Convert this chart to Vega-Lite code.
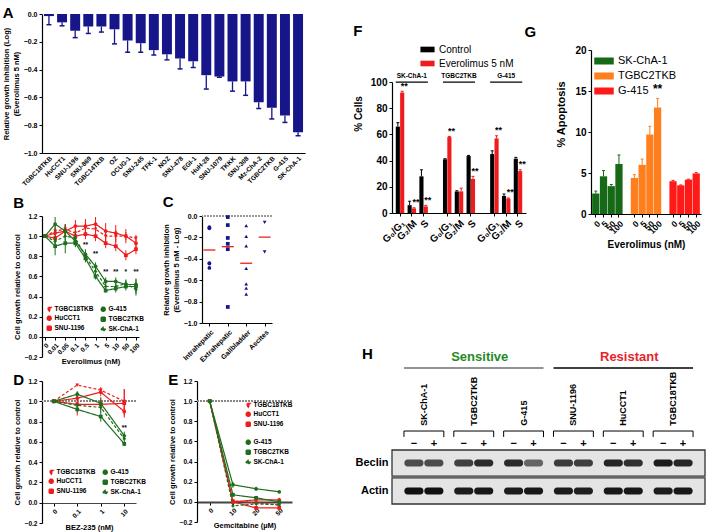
{
"$schema":"https://vega.github.io/schema/vega-lite/v6.json",
"padding":{"left":2,"top":6,"right":0,"bottom":0},
"config":{
 "font":"Liberation Sans",
 "view":{"stroke":null},
 "axis":{"labelFont":"Liberation Sans","titleFont":"Liberation Sans","labelFontWeight":"bold","titleFontWeight":"bold","labelColor":"#000","titleColor":"#000","domainColor":"#000","tickColor":"#000","grid":false,"labelFontSize":7,"titleFontSize":7.5,"tickSize":3,"domainWidth":1.2,"labelPadding":2,"titlePadding":3,"labelOverlap":false},
 "legend":{"labelFont":"Liberation Sans","labelFontWeight":"bold","labelColor":"#000"},
 "title":{"font":"Liberation Sans","fontSize":15,"fontWeight":"bold","anchor":"start","frame":"bounds","color":"#000","offset":2},
 "text":{"font":"Liberation Sans","color":"#000"}
},
"resolve":{"scale":{"color":"independent","shape":"independent","strokeDash":"independent","opacity":"independent","stroke":"independent","xOffset":"independent"}},
"hconcat":[
{"resolve":{"scale":{"color":"independent","shape":"independent","strokeDash":"independent","opacity":"independent","stroke":"independent","xOffset":"independent"}},
 "vconcat":[
 {"vconcat":[
  {"width":263,"height":139,
   "title":{"text":"A","dy":13},
   "data":{"values":[
    {"cell":"TGBC18TKB","v":-0.015,"lo":-0.077},
    {"cell":"HuCCT1","v":-0.06,"lo":-0.085},
    {"cell":"SNU-1196","v":-0.12,"lo":-0.17},
    {"cell":"SNU-869","v":-0.09,"lo":-0.14},
    {"cell":"TGBC14TKB","v":-0.09,"lo":-0.13},
    {"cell":"OZ","v":-0.11,"lo":-0.215},
    {"cell":"OCUG-1","v":-0.19,"lo":-0.275},
    {"cell":"SNU-245","v":-0.21,"lo":-0.275},
    {"cell":"TFK-1","v":-0.26,"lo":-0.295},
    {"cell":"NOZ","v":-0.29,"lo":-0.33},
    {"cell":"SNU-478","v":-0.32,"lo":-0.395},
    {"cell":"EGI-1","v":-0.34,"lo":-0.385},
    {"cell":"HuH-28","v":-0.44,"lo":-0.54},
    {"cell":"SNU-1079","v":-0.45,"lo":-0.455},
    {"cell":"TKKK","v":-0.485,"lo":-0.555},
    {"cell":"SNU-308","v":-0.485,"lo":-0.585},
    {"cell":"Mz-ChA-2","v":-0.635,"lo":-0.68},
    {"cell":"TGBC2TKB","v":-0.675,"lo":-0.755},
    {"cell":"G-415","v":-0.73,"lo":-0.78},
    {"cell":"SK-ChA-1","v":-0.85,"lo":-0.875}
   ]},
   "encoding":{
    "x":{"field":"cell","type":"nominal","sort":null,"scale":{"paddingInner":0.24,"paddingOuter":0.15},"axis":{"title":null,"labelAngle":-45,"labelFontSize":6.5,"ticks":false}},
    "y":{"field":"v","type":"quantitative","scale":{"domain":[-1,0]},"axis":{"values":[-1,-0.8,-0.6,-0.4,-0.2,0],"format":".1f","labelOverlap":false,"title":["Relative growth inhibition (Log)","(Everolimus 5 nM)"]}}
   },
   "layer":[
    {"mark":{"type":"bar","color":"#16168a","opacity":1}},
    {"mark":{"type":"rule","color":"#16168a","strokeWidth":1.3},"encoding":{"y2":{"field":"lo"}}},
    {"mark":{"type":"tick","color":"#16168a","thickness":1.5,"size":5,"opacity":1},"encoding":{"y":{"field":"lo","type":"quantitative"}}}
   ]}
 ]},
 {"resolve":{"scale":{"color":"independent","shape":"independent","strokeDash":"independent","opacity":"independent","stroke":"independent","xOffset":"independent"}},
  "hconcat":[
  {"width":97,"height":141,
   "title":{"text":"B"},
   "data":{"values":[
    {"s":"TGBC18TKB","grp":"R","d":"0","v":1,"lo":1,"hi":1},
    {"s":"TGBC18TKB","grp":"R","d":"0.01","v":1.05,"lo":1.0,"hi":1.1},
    {"s":"TGBC18TKB","grp":"R","d":"0.05","v":1.07,"lo":1.02,"hi":1.12},
    {"s":"TGBC18TKB","grp":"R","d":"0.1","v":1.03,"lo":0.98,"hi":1.08},
    {"s":"TGBC18TKB","grp":"R","d":"0.5","v":1.08,"lo":1.03,"hi":1.14},
    {"s":"TGBC18TKB","grp":"R","d":"1","v":1.07,"lo":1.0,"hi":1.14},
    {"s":"TGBC18TKB","grp":"R","d":"5","v":1.0,"lo":0.94,"hi":1.06},
    {"s":"TGBC18TKB","grp":"R","d":"10","v":1.0,"lo":0.94,"hi":1.06},
    {"s":"TGBC18TKB","grp":"R","d":"50","v":1.0,"lo":0.96,"hi":1.04},
    {"s":"TGBC18TKB","grp":"R","d":"100","v":0.98,"lo":0.95,"hi":1.01},
    {"s":"HuCCT1","grp":"R","d":"0","v":1,"lo":1,"hi":1},
    {"s":"HuCCT1","grp":"R","d":"0.01","v":1.03,"lo":0.98,"hi":1.08},
    {"s":"HuCCT1","grp":"R","d":"0.05","v":1.05,"lo":0.99,"hi":1.11},
    {"s":"HuCCT1","grp":"R","d":"0.1","v":1.1,"lo":1.04,"hi":1.16},
    {"s":"HuCCT1","grp":"R","d":"0.5","v":1.1,"lo":1.03,"hi":1.17},
    {"s":"HuCCT1","grp":"R","d":"1","v":1.12,"lo":1.04,"hi":1.19},
    {"s":"HuCCT1","grp":"R","d":"5","v":1.05,"lo":0.97,"hi":1.13},
    {"s":"HuCCT1","grp":"R","d":"10","v":1.03,"lo":0.95,"hi":1.11},
    {"s":"HuCCT1","grp":"R","d":"50","v":1.0,"lo":0.93,"hi":1.07},
    {"s":"HuCCT1","grp":"R","d":"100","v":0.93,"lo":0.88,"hi":0.98},
    {"s":"SNU-1196","grp":"R","d":"0","v":1,"lo":1,"hi":1},
    {"s":"SNU-1196","grp":"R","d":"0.01","v":0.98,"lo":0.93,"hi":1.03},
    {"s":"SNU-1196","grp":"R","d":"0.05","v":1.05,"lo":1.0,"hi":1.1},
    {"s":"SNU-1196","grp":"R","d":"0.1","v":1.0,"lo":0.95,"hi":1.05},
    {"s":"SNU-1196","grp":"R","d":"0.5","v":1.02,"lo":0.97,"hi":1.07},
    {"s":"SNU-1196","grp":"R","d":"1","v":1.0,"lo":0.95,"hi":1.05},
    {"s":"SNU-1196","grp":"R","d":"5","v":0.93,"lo":0.88,"hi":0.98},
    {"s":"SNU-1196","grp":"R","d":"10","v":0.9,"lo":0.85,"hi":0.95},
    {"s":"SNU-1196","grp":"R","d":"50","v":0.81,"lo":0.76,"hi":0.86},
    {"s":"SNU-1196","grp":"R","d":"100","v":0.87,"lo":0.82,"hi":0.92},
    {"s":"G-415","grp":"S","d":"0","v":1,"lo":1,"hi":1},
    {"s":"G-415","grp":"S","d":"0.01","v":1.12,"lo":1.05,"hi":1.19},
    {"s":"G-415","grp":"S","d":"0.05","v":1.05,"lo":0.98,"hi":1.12},
    {"s":"G-415","grp":"S","d":"0.1","v":0.95,"lo":0.9,"hi":1.0},
    {"s":"G-415","grp":"S","d":"0.5","v":0.82,"lo":0.77,"hi":0.87},
    {"s":"G-415","grp":"S","d":"1","v":0.7,"lo":0.66,"hi":0.74},
    {"s":"G-415","grp":"S","d":"5","v":0.55,"lo":0.51,"hi":0.59},
    {"s":"G-415","grp":"S","d":"10","v":0.55,"lo":0.51,"hi":0.59},
    {"s":"G-415","grp":"S","d":"50","v":0.52,"lo":0.48,"hi":0.56},
    {"s":"G-415","grp":"S","d":"100","v":0.52,"lo":0.46,"hi":0.58},
    {"s":"TGBC2TKB","grp":"S","d":"0","v":1,"lo":1,"hi":1},
    {"s":"TGBC2TKB","grp":"S","d":"0.01","v":0.9,"lo":0.81,"hi":0.99},
    {"s":"TGBC2TKB","grp":"S","d":"0.05","v":0.93,"lo":0.83,"hi":1.03},
    {"s":"TGBC2TKB","grp":"S","d":"0.1","v":0.93,"lo":0.89,"hi":0.97},
    {"s":"TGBC2TKB","grp":"S","d":"0.5","v":0.78,"lo":0.74,"hi":0.82},
    {"s":"TGBC2TKB","grp":"S","d":"1","v":0.6,"lo":0.57,"hi":0.63},
    {"s":"TGBC2TKB","grp":"S","d":"5","v":0.46,"lo":0.44,"hi":0.48},
    {"s":"TGBC2TKB","grp":"S","d":"10","v":0.48,"lo":0.44,"hi":0.52},
    {"s":"TGBC2TKB","grp":"S","d":"50","v":0.5,"lo":0.46,"hi":0.54},
    {"s":"TGBC2TKB","grp":"S","d":"100","v":0.5,"lo":0.43,"hi":0.57},
    {"s":"SK-ChA-1","grp":"S","d":"0","v":1,"lo":1,"hi":1},
    {"s":"SK-ChA-1","grp":"S","d":"0.01","v":0.95,"lo":0.9,"hi":1.0},
    {"s":"SK-ChA-1","grp":"S","d":"0.05","v":1.0,"lo":0.95,"hi":1.05},
    {"s":"SK-ChA-1","grp":"S","d":"0.1","v":0.98,"lo":0.93,"hi":1.03},
    {"s":"SK-ChA-1","grp":"S","d":"0.5","v":0.8,"lo":0.76,"hi":0.84},
    {"s":"SK-ChA-1","grp":"S","d":"1","v":0.65,"lo":0.61,"hi":0.69},
    {"s":"SK-ChA-1","grp":"S","d":"5","v":0.5,"lo":0.47,"hi":0.53},
    {"s":"SK-ChA-1","grp":"S","d":"10","v":0.5,"lo":0.46,"hi":0.54},
    {"s":"SK-ChA-1","grp":"S","d":"50","v":0.53,"lo":0.49,"hi":0.57},
    {"s":"SK-ChA-1","grp":"S","d":"100","v":0.47,"lo":0.41,"hi":0.53}
   ]},
   "encoding":{
    "x":{"field":"d","type":"ordinal","sort":null,"scale":{"type":"point","domain":["0","0.01","0.05","0.1","0.5","1","5","10","50","100"],"padding":0.3},"axis":{"title":"Everolimus (nM)","labelAngle":-45,"offset":-20,"labelFontSize":6.5,"titlePadding":2}},
    "y":{"field":"v","type":"quantitative","scale":{"domain":[-0.2,1.2]},"axis":{"values":[-0.2,0,0.2,0.4,0.6,0.8,1,1.2],"format":".1f","title":"Cell growth relative to control","labelFontSize":6.5}}
   },
   "layer":[
    {"transform":[{"filter":"datum.grp=='R'"}],"layer":[
     {"mark":{"type":"line","strokeWidth":1.2},"encoding":{"color":{"field":"s","type":"nominal","scale":{"domain":["TGBC18TKB","HuCCT1","SNU-1196"],"range":["#ee1c1c","#ee1c1c","#ee1c1c"]}},"strokeDash":{"field":"s","type":"nominal","scale":{"domain":["TGBC18TKB","HuCCT1","SNU-1196"],"range":[[3,2],[1,0],[1,0]]},"legend":null}}},
     {"mark":{"type":"rule","strokeWidth":1},"encoding":{"y":{"field":"lo","type":"quantitative"},"y2":{"field":"hi"},"color":{"field":"s","type":"nominal"}}},
     {"mark":{"type":"point","filled":true,"size":14,"opacity":1},"encoding":{"color":{"field":"s","type":"nominal","legend":{"orient":"none","legendX":4,"legendY":90,"title":null,"labelFontSize":6.5,"symbolSize":16,"rowPadding":-1,"labelOffset":2,"padding":0}},"shape":{"field":"s","type":"nominal","scale":{"domain":["TGBC18TKB","HuCCT1","SNU-1196"],"range":["triangle-down","circle","square"]},"legend":{"orient":"none","legendX":4,"legendY":90,"title":null,"labelFontSize":6.5,"symbolSize":16,"rowPadding":-1,"labelOffset":2,"padding":0}}}}
    ]},
    {"transform":[{"filter":"datum.grp=='S'"}],"layer":[
     {"mark":{"type":"line","strokeWidth":1.2},"encoding":{"color":{"field":"s","type":"nominal","scale":{"domain":["G-415","TGBC2TKB","SK-ChA-1"],"range":["#1e6e1e","#1e6e1e","#1e6e1e"]}},"strokeDash":{"field":"s","type":"nominal","scale":{"domain":["G-415","TGBC2TKB","SK-ChA-1"],"range":[[1,0],[1,0],[3,2]]},"legend":null}}},
     {"mark":{"type":"rule","strokeWidth":1},"encoding":{"y":{"field":"lo","type":"quantitative"},"y2":{"field":"hi"},"color":{"field":"s","type":"nominal"}}},
     {"mark":{"type":"point","filled":true,"size":14,"opacity":1},"encoding":{"color":{"field":"s","type":"nominal","legend":{"orient":"none","legendX":58,"legendY":90,"title":null,"labelFontSize":6.5,"symbolSize":16,"rowPadding":-1,"labelOffset":2,"padding":0}},"shape":{"field":"s","type":"nominal","scale":{"domain":["G-415","TGBC2TKB","SK-ChA-1"],"range":["circle","square","diamond"]},"legend":{"orient":"none","legendX":58,"legendY":90,"title":null,"labelFontSize":6.5,"symbolSize":16,"rowPadding":-1,"labelOffset":2,"padding":0}}}}
    ]},
    {"data":{"values":[{"d":"0.5","v":0.88,"t":"**"},{"d":"1","v":0.79,"t":"**"},{"d":"5","v":0.61,"t":"**"},{"d":"10","v":0.61,"t":"**"},{"d":"50","v":0.61,"t":"*"},{"d":"100","v":0.61,"t":"**"}]},
     "mark":{"type":"text","fontSize":6.5,"fontWeight":"bold","baseline":"bottom"},"encoding":{"y":{"field":"v","type":"quantitative"},"text":{"field":"t"}}}
   ],
   "resolve":{"scale":{"color":"independent","shape":"independent","strokeDash":"independent"}}
  },
  {"width":70,"height":107,
   "title":{"text":"C"},
   "data":{"values":[
    {"site":"Intrahepatic","v":-0.105},{"site":"Intrahepatic","v":-0.115},{"site":"Intrahepatic","v":-0.44},{"site":"Intrahepatic","v":-0.485},{"site":"Intrahepatic","v":-0.445},
    {"site":"Extrahepatic","v":-0.01},{"site":"Extrahepatic","v":-0.085},{"site":"Extrahepatic","v":-0.205},{"site":"Extrahepatic","v":-0.26},{"site":"Extrahepatic","v":-0.31},{"site":"Extrahepatic","v":-0.85},
    {"site":"Gallbladder","v":-0.09},{"site":"Gallbladder","v":-0.19},{"site":"Gallbladder","v":-0.28},{"site":"Gallbladder","v":-0.49},{"site":"Gallbladder","v":-0.635},{"site":"Gallbladder","v":-0.675},{"site":"Gallbladder","v":-0.73},
    {"site":"Ascites","v":-0.06},{"site":"Ascites","v":-0.335}
   ]},
   "encoding":{
    "y":{"field":"v","type":"quantitative","scale":{"domain":[-1,0]},"axis":{"values":[-1,-0.8,-0.6,-0.4,-0.2,0],"format":".1f","labelOverlap":false,"title":["Relative growth inhibition","(Everolimus 5 nM - Log)"],"labelFontSize":7}}
   },
   "layer":[
    {"mark":{"type":"rule","color":"#999999","strokeDash":[1.5,1.5],"strokeWidth":1},"encoding":{"y":{"datum":0,"type":"quantitative"}}},
    {"mark":{"type":"point","filled":true,"size":14,"color":"#16168a","opacity":1},"encoding":{"x":{"field":"site","type":"nominal","sort":null,"scale":{"type":"point","domain":["Intrahepatic","Extrahepatic","Gallbladder","Ascites"],"padding":0.4},"axis":{"title":null,"labelAngle":-45,"labelFontSize":7}},"shape":{"field":"site","type":"nominal","scale":{"domain":["Intrahepatic","Extrahepatic","Gallbladder","Ascites"],"range":["circle","square","triangle-up","triangle-down"]},"legend":null}}},
    {"transform":[{"aggregate":[{"op":"mean","field":"v","as":"m"}],"groupby":["site"]}],"mark":{"type":"tick","color":"#ee1c1c","thickness":1.3,"size":12,"orient":"horizontal","opacity":1},"encoding":{"x":{"field":"site","type":"nominal","sort":null},"y":{"field":"m","type":"quantitative"}}}
   ]}
 ],"spacing":18},
 {"resolve":{"scale":{"color":"independent","shape":"independent","strokeDash":"independent","opacity":"independent","stroke":"independent","xOffset":"independent"}},
  "hconcat":[
  {"width":94,"height":142,
   "title":{"text":"D","dy":12},
   "data":{"values":[
    {"s":"TGBC18TKB","grp":"R","d":"0","v":1,"lo":1,"hi":1},
    {"s":"TGBC18TKB","grp":"R","d":"0.1","v":1.16,"lo":1.15,"hi":1.17},
    {"s":"TGBC18TKB","grp":"R","d":"1","v":1.11,"lo":1.08,"hi":1.14},
    {"s":"TGBC18TKB","grp":"R","d":"10","v":1.0,"lo":0.88,"hi":1.12},
    {"s":"HuCCT1","grp":"R","d":"0","v":1,"lo":1,"hi":1},
    {"s":"HuCCT1","grp":"R","d":"0.1","v":1.03,"lo":0.97,"hi":1.09},
    {"s":"HuCCT1","grp":"R","d":"1","v":1.09,"lo":1.05,"hi":1.13},
    {"s":"HuCCT1","grp":"R","d":"10","v":0.9,"lo":0.86,"hi":0.94},
    {"s":"SNU-1196","grp":"R","d":"0","v":1,"lo":1,"hi":1},
    {"s":"SNU-1196","grp":"R","d":"0.1","v":0.97,"lo":0.86,"hi":1.08},
    {"s":"SNU-1196","grp":"R","d":"1","v":0.97,"lo":0.91,"hi":1.03},
    {"s":"SNU-1196","grp":"R","d":"10","v":0.98,"lo":0.84,"hi":1.12},
    {"s":"G-415","grp":"S","d":"0","v":1,"lo":1,"hi":1},
    {"s":"G-415","grp":"S","d":"0.1","v":1.07,"lo":1.04,"hi":1.1},
    {"s":"G-415","grp":"S","d":"1","v":0.98,"lo":0.92,"hi":1.04},
    {"s":"G-415","grp":"S","d":"10","v":0.66,"lo":0.62,"hi":0.7},
    {"s":"TGBC2TKB","grp":"S","d":"0","v":1,"lo":1,"hi":1},
    {"s":"TGBC2TKB","grp":"S","d":"0.1","v":0.92,"lo":0.89,"hi":0.95},
    {"s":"TGBC2TKB","grp":"S","d":"1","v":0.85,"lo":0.8,"hi":0.9},
    {"s":"TGBC2TKB","grp":"S","d":"10","v":0.58,"lo":0.56,"hi":0.6},
    {"s":"SK-ChA-1","grp":"S","d":"0","v":1,"lo":1,"hi":1},
    {"s":"SK-ChA-1","grp":"S","d":"0.1","v":0.96,"lo":0.94,"hi":0.98},
    {"s":"SK-ChA-1","grp":"S","d":"1","v":0.94,"lo":0.89,"hi":0.99},
    {"s":"SK-ChA-1","grp":"S","d":"10","v":0.63,"lo":0.58,"hi":0.68}
   ]},
   "encoding":{
    "y":{"field":"v","type":"quantitative","scale":{"domain":[-0.2,1.2]},"axis":{"values":[-0.2,0,0.2,0.4,0.6,0.8,1,1.2],"format":".1f","title":"Cell growth relative to control","labelFontSize":6.5}}
   },
   "layer":[
    {"mark":{"type":"rule","color":"#888888","strokeDash":[1.5,1.5],"strokeWidth":1},"encoding":{"y":{"datum":1,"type":"quantitative"}}},
    {"transform":[{"filter":"datum.grp=='R'"}],
     "encoding":{"x":{"field":"d","type":"ordinal","sort":null,"scale":{"type":"point","domain":["0","0.1","1","10"],"padding":0.5},"axis":{"title":"BEZ-235 (nM)","labelAngle":-45,"offset":-20,"labelFontSize":6.5,"titlePadding":5,"domainColor":"#444444"}}},
     "layer":[
     {"mark":{"type":"line","strokeWidth":1.2},"encoding":{"color":{"field":"s","type":"nominal","scale":{"domain":["TGBC18TKB","HuCCT1","SNU-1196"],"range":["#ee1c1c","#ee1c1c","#ee1c1c"]}},"strokeDash":{"field":"s","type":"nominal","scale":{"domain":["TGBC18TKB","HuCCT1","SNU-1196"],"range":[[3,2],[1,0],[1,0]]},"legend":null}}},
     {"mark":{"type":"rule","strokeWidth":1},"encoding":{"y":{"field":"lo","type":"quantitative"},"y2":{"field":"hi"},"color":{"field":"s","type":"nominal"}}},
     {"mark":{"type":"point","filled":true,"size":14,"opacity":1},"encoding":{"color":{"field":"s","type":"nominal","legend":{"orient":"none","legendX":6,"legendY":88,"title":null,"labelFontSize":6.5,"symbolSize":16,"rowPadding":-1,"labelOffset":2,"padding":0}},"shape":{"field":"s","type":"nominal","scale":{"domain":["TGBC18TKB","HuCCT1","SNU-1196"],"range":["triangle-down","circle","square"]},"legend":{"orient":"none","legendX":6,"legendY":88,"title":null,"labelFontSize":6.5,"symbolSize":16,"rowPadding":-1,"labelOffset":2,"padding":0}}}}
    ]},
    {"transform":[{"filter":"datum.grp=='S'"}],
     "encoding":{"x":{"field":"d","type":"ordinal","sort":null}},
     "layer":[
     {"mark":{"type":"line","strokeWidth":1.2},"encoding":{"color":{"field":"s","type":"nominal","scale":{"domain":["G-415","TGBC2TKB","SK-ChA-1"],"range":["#1e6e1e","#1e6e1e","#1e6e1e"]}},"strokeDash":{"field":"s","type":"nominal","scale":{"domain":["G-415","TGBC2TKB","SK-ChA-1"],"range":[[1,0],[1,0],[3,2]]},"legend":null}}},
     {"mark":{"type":"rule","strokeWidth":1},"encoding":{"y":{"field":"lo","type":"quantitative"},"y2":{"field":"hi"},"color":{"field":"s","type":"nominal"}}},
     {"mark":{"type":"point","filled":true,"size":14,"opacity":1},"encoding":{"color":{"field":"s","type":"nominal","legend":{"orient":"none","legendX":60,"legendY":88,"title":null,"labelFontSize":6.5,"symbolSize":16,"rowPadding":-1,"labelOffset":2,"padding":0}},"shape":{"field":"s","type":"nominal","scale":{"domain":["G-415","TGBC2TKB","SK-ChA-1"],"range":["circle","square","diamond"]},"legend":{"orient":"none","legendX":60,"legendY":88,"title":null,"labelFontSize":6.5,"symbolSize":16,"rowPadding":-1,"labelOffset":2,"padding":0}}}}
    ]},
    {"data":{"values":[{"d":"10","v":0.71,"t":"**"}]},
     "mark":{"type":"text","fontSize":6.5,"fontWeight":"bold","baseline":"bottom"},"encoding":{"x":{"field":"d","type":"ordinal","sort":null},"y":{"field":"v","type":"quantitative"},"text":{"field":"t"}}}
   ],
   "resolve":{"scale":{"color":"independent","shape":"independent","strokeDash":"independent"}}
  },
  {"width":95,"height":141,
   "title":{"text":"E","dy":12},
   "data":{"values":[
    {"s":"TGBC18TKB","grp":"R","d":"0","v":1,"lo":1,"hi":1},
    {"s":"TGBC18TKB","grp":"R","d":"10","v":0.01,"lo":-0.01,"hi":0.03},
    {"s":"TGBC18TKB","grp":"R","d":"20","v":-0.01,"lo":-0.03,"hi":0.01},
    {"s":"TGBC18TKB","grp":"R","d":"50","v":-0.03,"lo":-0.05,"hi":-0.01},
    {"s":"HuCCT1","grp":"R","d":"0","v":1,"lo":1,"hi":1},
    {"s":"HuCCT1","grp":"R","d":"10","v":0.0,"lo":-0.02,"hi":0.02},
    {"s":"HuCCT1","grp":"R","d":"20","v":0.02,"lo":0.0,"hi":0.04},
    {"s":"HuCCT1","grp":"R","d":"50","v":0.02,"lo":0.0,"hi":0.04},
    {"s":"SNU-1196","grp":"R","d":"0","v":1,"lo":1,"hi":1},
    {"s":"SNU-1196","grp":"R","d":"10","v":0.0,"lo":-0.02,"hi":0.02},
    {"s":"SNU-1196","grp":"R","d":"20","v":-0.06,"lo":-0.08,"hi":-0.04},
    {"s":"SNU-1196","grp":"R","d":"50","v":-0.06,"lo":-0.08,"hi":-0.04},
    {"s":"G-415","grp":"S","d":"0","v":1,"lo":1,"hi":1},
    {"s":"G-415","grp":"S","d":"10","v":0.17,"lo":0.14,"hi":0.2},
    {"s":"G-415","grp":"S","d":"20","v":0.13,"lo":0.11,"hi":0.15},
    {"s":"G-415","grp":"S","d":"50","v":0.1,"lo":0.09,"hi":0.11},
    {"s":"TGBC2TKB","grp":"S","d":"0","v":1,"lo":1,"hi":1},
    {"s":"TGBC2TKB","grp":"S","d":"10","v":0.07,"lo":0.05,"hi":0.09},
    {"s":"TGBC2TKB","grp":"S","d":"20","v":0.04,"lo":0.03,"hi":0.05},
    {"s":"TGBC2TKB","grp":"S","d":"50","v":0.0,"lo":-0.01,"hi":0.01},
    {"s":"SK-ChA-1","grp":"S","d":"0","v":1,"lo":1,"hi":1},
    {"s":"SK-ChA-1","grp":"S","d":"10","v":-0.04,"lo":-0.05,"hi":-0.03},
    {"s":"SK-ChA-1","grp":"S","d":"20","v":-0.02,"lo":-0.03,"hi":-0.01},
    {"s":"SK-ChA-1","grp":"S","d":"50","v":-0.03,"lo":-0.04,"hi":-0.02}
   ]},
   "encoding":{
    "y":{"field":"v","type":"quantitative","scale":{"domain":[-0.2,1.2]},"axis":{"values":[-0.2,0,0.2,0.4,0.6,0.8,1,1.2],"format":".1f","title":"Cell growth relative to control","labelFontSize":6.5}}
   },
   "layer":[
    {"mark":{"type":"rule","color":"#888888","strokeDash":[1.5,1.5],"strokeWidth":1},"encoding":{"y":{"datum":1,"type":"quantitative"}}},
    {"transform":[{"filter":"datum.grp=='R'"}],
     "encoding":{"x":{"field":"d","type":"ordinal","sort":null,"scale":{"type":"point","domain":["0","10","20","50"],"padding":0.55},"axis":{"title":"Gemcitabine (µM)","labelAngle":-45,"offset":-20,"labelFontSize":6.5,"titlePadding":5,"domainColor":"#444444","domainWidth":2}}},
     "layer":[
     {"mark":{"type":"line","strokeWidth":1.2},"encoding":{"color":{"field":"s","type":"nominal","scale":{"domain":["TGBC18TKB","HuCCT1","SNU-1196"],"range":["#ee1c1c","#ee1c1c","#ee1c1c"]}},"strokeDash":{"field":"s","type":"nominal","scale":{"domain":["TGBC18TKB","HuCCT1","SNU-1196"],"range":[[3,2],[1,0],[1,0]]},"legend":null}}},
     {"mark":{"type":"rule","strokeWidth":1},"encoding":{"y":{"field":"lo","type":"quantitative"},"y2":{"field":"hi"},"color":{"field":"s","type":"nominal"}}},
     {"mark":{"type":"point","filled":true,"size":14,"opacity":1},"encoding":{"color":{"field":"s","type":"nominal","legend":{"orient":"none","legendX":48,"legendY":21,"title":null,"labelFontSize":6.5,"symbolSize":16,"rowPadding":-1,"labelOffset":2,"padding":0}},"shape":{"field":"s","type":"nominal","scale":{"domain":["TGBC18TKB","HuCCT1","SNU-1196"],"range":["triangle-down","circle","square"]},"legend":{"orient":"none","legendX":48,"legendY":21,"title":null,"labelFontSize":6.5,"symbolSize":16,"rowPadding":-1,"labelOffset":2,"padding":0}}}}
    ]},
    {"transform":[{"filter":"datum.grp=='S'"}],
     "encoding":{"x":{"field":"d","type":"ordinal","sort":null}},
     "layer":[
     {"mark":{"type":"line","strokeWidth":1.2},"encoding":{"color":{"field":"s","type":"nominal","scale":{"domain":["G-415","TGBC2TKB","SK-ChA-1"],"range":["#1e6e1e","#1e6e1e","#1e6e1e"]}},"strokeDash":{"field":"s","type":"nominal","scale":{"domain":["G-415","TGBC2TKB","SK-ChA-1"],"range":[[1,0],[1,0],[3,2]]},"legend":null}}},
     {"mark":{"type":"rule","strokeWidth":1},"encoding":{"y":{"field":"lo","type":"quantitative"},"y2":{"field":"hi"},"color":{"field":"s","type":"nominal"}}},
     {"mark":{"type":"point","filled":true,"size":14,"opacity":1},"encoding":{"color":{"field":"s","type":"nominal","legend":{"orient":"none","legendX":48,"legendY":58,"title":null,"labelFontSize":6.5,"symbolSize":16,"rowPadding":-1,"labelOffset":2,"padding":0}},"shape":{"field":"s","type":"nominal","scale":{"domain":["G-415","TGBC2TKB","SK-ChA-1"],"range":["circle","square","diamond"]},"legend":{"orient":"none","legendX":48,"legendY":58,"title":null,"labelFontSize":6.5,"symbolSize":16,"rowPadding":-1,"labelOffset":2,"padding":0}}}}
    ]}
   ],
   "resolve":{"scale":{"color":"independent","shape":"independent","strokeDash":"independent"}}
  }
 ],"spacing":22}
],"spacing":7},
{"resolve":{"scale":{"color":"independent","shape":"independent","strokeDash":"independent","opacity":"independent","stroke":"independent","xOffset":"independent"}},
 "vconcat":[
 {"resolve":{"scale":{"color":"independent","shape":"independent","strokeDash":"independent","opacity":"independent","stroke":"independent","xOffset":"independent"}},
  "hconcat":[
  {"width":134,"height":199,
   "title":{"text":"F","dy":27},
   "data":{"values":[
    {"cell":"SK-ChA-1","k":"SK-ChA-1|G₀/G₁","t":"Control","v":66,"hi":69},
    {"cell":"SK-ChA-1","k":"SK-ChA-1|G₀/G₁","t":"Everolimus 5 nM","v":92,"hi":93},
    {"cell":"SK-ChA-1","k":"SK-ChA-1|G₂/M","t":"Control","v":6,"hi":9},
    {"cell":"SK-ChA-1","k":"SK-ChA-1|G₂/M","t":"Everolimus 5 nM","v":3.5,"hi":4},
    {"cell":"SK-ChA-1","k":"SK-ChA-1|S","t":"Control","v":28,"hi":33},
    {"cell":"SK-ChA-1","k":"SK-ChA-1|S","t":"Everolimus 5 nM","v":5,"hi":5.8},
    {"cell":"TGBC2TKB","k":"TGBC2TKB|G₀/G₁","t":"Control","v":41,"hi":41.5},
    {"cell":"TGBC2TKB","k":"TGBC2TKB|G₀/G₁","t":"Everolimus 5 nM","v":58,"hi":58.5},
    {"cell":"TGBC2TKB","k":"TGBC2TKB|G₂/M","t":"Control","v":16.5,"hi":17},
    {"cell":"TGBC2TKB","k":"TGBC2TKB|G₂/M","t":"Everolimus 5 nM","v":16.5,"hi":19},
    {"cell":"TGBC2TKB","k":"TGBC2TKB|S","t":"Control","v":43.5,"hi":44},
    {"cell":"TGBC2TKB","k":"TGBC2TKB|S","t":"Everolimus 5 nM","v":26,"hi":28},
    {"cell":"G-415","k":"G-415|G₀/G₁","t":"Control","v":45,"hi":47.5},
    {"cell":"G-415","k":"G-415|G₀/G₁","t":"Everolimus 5 nM","v":57,"hi":59},
    {"cell":"G-415","k":"G-415|G₂/M","t":"Control","v":13,"hi":14.5},
    {"cell":"G-415","k":"G-415|G₂/M","t":"Everolimus 5 nM","v":11,"hi":11.5},
    {"cell":"G-415","k":"G-415|S","t":"Control","v":41.5,"hi":42.5},
    {"cell":"G-415","k":"G-415|S","t":"Everolimus 5 nM","v":32,"hi":33}
   ]},
   "encoding":{
    "x":{"field":"k","type":"nominal","sort":null,"scale":{"domain":["SK-ChA-1|G₀/G₁","SK-ChA-1|G₂/M","SK-ChA-1|S","gap1","TGBC2TKB|G₀/G₁","TGBC2TKB|G₂/M","TGBC2TKB|S","gap2","G-415|G₀/G₁","G-415|G₂/M","G-415|S"],"paddingInner":0.28,"paddingOuter":0.32},"axis":{"title":null,"values":["SK-ChA-1|G₀/G₁","SK-ChA-1|G₂/M","SK-ChA-1|S","TGBC2TKB|G₀/G₁","TGBC2TKB|G₂/M","TGBC2TKB|S","G-415|G₀/G₁","G-415|G₂/M","G-415|S"],"labelExpr":"split(datum.value,'|')[1]","labelAngle":-45,"labelFontSize":10}},
    "y":{"field":"v","type":"quantitative","scale":{"domain":[0,152]},"axis":{"values":[0,20,40,60,80,100],"labelOverlap":false,"title":"% Cells","labelFontSize":10,"titleFontSize":10,"titlePadding":7,"domainDash":[131,400]}}
   },
   "layer":[
    {"mark":{"type":"bar","opacity":1},"encoding":{"xOffset":{"field":"t","type":"nominal","scale":{"domain":["Control","Everolimus 5 nM"],"paddingInner":0.05}},"color":{"field":"t","type":"nominal","scale":{"domain":["Control","Everolimus 5 nM"],"range":["#000000","#ee1c1c"]},"legend":{"orient":"none","legendX":28,"legendY":28,"title":null,"labelFontSize":10,"labelFontWeight":"normal","symbolType":"M-1,-0.4H1V0.4H-1Z","symbolSize":200,"symbolOpacity":1,"rowPadding":1,"padding":0,"symbolStrokeWidth":0}}}},
    {"mark":{"type":"rule","strokeWidth":1},"encoding":{"xOffset":{"field":"t","type":"nominal"},"y2":{"field":"hi"},"color":{"field":"t","type":"nominal"}}},
    {"mark":{"type":"tick","thickness":1,"size":3,"opacity":1},"encoding":{"xOffset":{"field":"t","type":"nominal"},"y":{"field":"hi","type":"quantitative"},"color":{"field":"t","type":"nominal"}}},
    {"data":{"values":[
      {"k":"SK-ChA-1|G₀/G₁","t":"Everolimus 5 nM","y":93.5,"lab":"**"},
      {"k":"SK-ChA-1|G₂/M","t":"Everolimus 5 nM","y":4.5,"lab":"**"},
      {"k":"SK-ChA-1|S","t":"Everolimus 5 nM","y":6,"lab":"**"},
      {"k":"TGBC2TKB|G₀/G₁","t":"Everolimus 5 nM","y":59,"lab":"**"},
      {"k":"TGBC2TKB|S","t":"Everolimus 5 nM","y":28.5,"lab":"**"},
      {"k":"G-415|G₀/G₁","t":"Everolimus 5 nM","y":59.5,"lab":"**"},
      {"k":"G-415|G₂/M","t":"Everolimus 5 nM","y":12,"lab":"**"},
      {"k":"G-415|S","t":"Everolimus 5 nM","y":33.5,"lab":"**"}
     ]},
     "mark":{"type":"text","fontSize":9,"fontWeight":"bold","baseline":"bottom","dx":2},"encoding":{"xOffset":{"field":"t","type":"nominal"},"y":{"field":"y","type":"quantitative"},"text":{"field":"lab"}}},
    {"data":{"values":[
      {"grp":"SK-ChA-1","a":"SK-ChA-1|G₀/G₁","m":"SK-ChA-1|G₂/M","b":"SK-ChA-1|S","pct":100},
      {"grp":"TGBC2TKB","a":"TGBC2TKB|G₀/G₁","m":"TGBC2TKB|G₂/M","b":"TGBC2TKB|S","pct":100},
      {"grp":"G-415","a":"G-415|G₀/G₁","m":"G-415|G₂/M","b":"G-415|S","pct":100}
     ]},
     "mark":{"type":"rule","strokeWidth":1.2,"color":"#000"},"encoding":{"x":{"field":"a","type":"nominal","bandPosition":0},"x2":{"field":"b","bandPosition":1},"y":{"field":"pct","type":"quantitative"}}},
    {"data":{"values":[
      {"grp":"SK-ChA-1","a":"SK-ChA-1|G₀/G₁","m":"SK-ChA-1|G₂/M","b":"SK-ChA-1|S","pct":100},
      {"grp":"TGBC2TKB","a":"TGBC2TKB|G₀/G₁","m":"TGBC2TKB|G₂/M","b":"TGBC2TKB|S","pct":100},
      {"grp":"G-415","a":"G-415|G₀/G₁","m":"G-415|G₂/M","b":"G-415|S","pct":100}
     ]},
     "mark":{"type":"text","fontSize":6.5,"fontWeight":"bold","baseline":"bottom","dy":-3},"encoding":{"x":{"field":"m","type":"nominal"},"y":{"field":"pct","type":"quantitative"},"text":{"field":"grp"}}}
   ]
  },
  {"width":110,"height":200,
   "title":{"text":"G","orient":"left","anchor":"end","angle":0,"align":"right","baseline":"top","frame":"group","offset":8,"dy":11},
   "data":{"values":[
    {"cell":"SK-ChA-1","dose":"0","k":"SK-ChA-1|0","v":2.5,"hi":2.8},
    {"cell":"SK-ChA-1","dose":"5","k":"SK-ChA-1|5","v":4.6,"hi":5.3},
    {"cell":"SK-ChA-1","dose":"50","k":"SK-ChA-1|50","v":3.4,"hi":3.6},
    {"cell":"SK-ChA-1","dose":"100","k":"SK-ChA-1|100","v":6.1,"hi":7.2},
    {"cell":"TGBC2TKB","dose":"0","k":"TGBC2TKB|0","v":4.4,"hi":4.8},
    {"cell":"TGBC2TKB","dose":"5","k":"TGBC2TKB|5","v":6.0,"hi":6.7},
    {"cell":"TGBC2TKB","dose":"50","k":"TGBC2TKB|50","v":9.7,"hi":10.7},
    {"cell":"TGBC2TKB","dose":"100","k":"TGBC2TKB|100","v":13.0,"hi":14.1},
    {"cell":"G-415","dose":"0","k":"G-415|0","v":4.0,"hi":4.1},
    {"cell":"G-415","dose":"5","k":"G-415|5","v":3.5,"hi":3.55},
    {"cell":"G-415","dose":"50","k":"G-415|50","v":4.2,"hi":4.25},
    {"cell":"G-415","dose":"100","k":"G-415|100","v":4.95,"hi":5.05}
   ]},
   "encoding":{
    "x":{"field":"k","type":"nominal","sort":null,"scale":{"domain":["SK-ChA-1|0","SK-ChA-1|5","SK-ChA-1|50","SK-ChA-1|100","gap1","TGBC2TKB|0","TGBC2TKB|5","TGBC2TKB|50","TGBC2TKB|100","gap2","G-415|0","G-415|5","G-415|50","G-415|100"],"paddingInner":0.06,"paddingOuter":0.15},"axis":{"title":"Everolimus (nM)","values":["SK-ChA-1|0","SK-ChA-1|5","SK-ChA-1|50","SK-ChA-1|100","TGBC2TKB|0","TGBC2TKB|5","TGBC2TKB|50","TGBC2TKB|100","G-415|0","G-415|5","G-415|50","G-415|100"],"labelExpr":"split(datum.value,'|')[1]","labelAngle":-45,"labelFontSize":8.5,"titleFontSize":10,"titlePadding":4}},
    "y":{"field":"v","type":"quantitative","scale":{"domain":[0,24.4]},"axis":{"values":[0,5,10,15,20],"labelOverlap":false,"title":"% Apoptosis","labelFontSize":10,"titleFontSize":11,"titlePadding":8,"domainDash":[164,400]}}
   },
   "layer":[
    {"mark":{"type":"bar","opacity":1},"encoding":{"color":{"field":"cell","type":"nominal","scale":{"domain":["SK-ChA-1","TGBC2TKB","G-415"],"range":["#166916","#ff7f1e","#ff1a1a"]},"legend":{"orient":"none","legendX":3,"legendY":37,"title":null,"labelFontSize":11,"labelFontWeight":"normal","symbolType":"M-1,-0.36H1V0.36H-1Z","symbolSize":380,"symbolOpacity":1,"rowPadding":0,"padding":0,"symbolStrokeWidth":0,"labelOffset":4}}}},
    {"mark":{"type":"rule","strokeWidth":1},"encoding":{"y2":{"field":"hi"},"color":{"field":"cell","type":"nominal"}}},
    {"mark":{"type":"tick","thickness":1,"size":3,"opacity":1},"encoding":{"y":{"field":"hi","type":"quantitative"},"color":{"field":"cell","type":"nominal"}}},
    {"data":{"values":[{"k":"TGBC2TKB|100","y":14.4,"lab":"**"}]},
     "mark":{"type":"text","fontSize":12,"fontWeight":"bold","baseline":"bottom"},"encoding":{"y":{"field":"y","type":"quantitative"},"text":{"field":"lab"}}}
   ]
  }
 ],"spacing":-2},
 {"resolve":{"scale":{"color":"independent","shape":"independent","strokeDash":"independent","opacity":"independent","stroke":"independent","xOffset":"independent"}},
  "vconcat":[
  {"width":313,"height":97,
   "title":{"text":"H","frame":"group","dx":-30,"dy":13},
   "data":{"values":[
    {"cell":"SK-ChA-1","grp":"Sensitive"},{"cell":"TGBC2TKB","grp":"Sensitive"},{"cell":"G-415","grp":"Sensitive"},
    {"cell":"SNU-1196","grp":"Resistant"},{"cell":"HuCCT1","grp":"Resistant"},{"cell":"TGBC18TKB","grp":"Resistant"}
   ]},
   "encoding":{"x":{"field":"cell","type":"nominal","sort":null,"scale":{"domain":["SK-ChA-1","TGBC2TKB","G-415","SNU-1196","HuCCT1","TGBC18TKB"],"paddingInner":0.2,"paddingOuter":0.24},"axis":null}},
   "layer":[
    {"mark":{"type":"text","angle":-90,"align":"left","baseline":"middle","fontSize":9,"fontWeight":"bold","dx":2},"encoding":{"y":{"datum":2.1,"type":"quantitative","scale":{"domain":[0,10]},"axis":null},"text":{"field":"cell"}}},
    {"mark":{"type":"rect","fill":"transparent","stroke":"#000","strokeWidth":1,"strokeDash":[46,39.9,6,0]},"encoding":{"x":{"field":"cell","type":"nominal","bandPosition":0},"x2":{"field":"cell","bandPosition":1},"y":{"datum":1.75,"type":"quantitative"},"y2":{"datum":1.13}}},
    {"data":{"values":[
      {"cell":"SK-ChA-1","trt":"−"},{"cell":"SK-ChA-1","trt":"+"},
      {"cell":"TGBC2TKB","trt":"−"},{"cell":"TGBC2TKB","trt":"+"},
      {"cell":"G-415","trt":"−"},{"cell":"G-415","trt":"+"},
      {"cell":"SNU-1196","trt":"−"},{"cell":"SNU-1196","trt":"+"},
      {"cell":"HuCCT1","trt":"−"},{"cell":"HuCCT1","trt":"+"},
      {"cell":"TGBC18TKB","trt":"−"},{"cell":"TGBC18TKB","trt":"+"}
     ]},
     "mark":{"type":"text","fontSize":11,"fontWeight":"bold","baseline":"middle"},"encoding":{"xOffset":{"field":"trt","type":"nominal","scale":{"domain":["−","+"]}},"y":{"datum":0.45,"type":"quantitative"},"text":{"field":"trt"}}},
    {"data":{"values":[
      {"grp":"Sensitive","first":"SK-ChA-1","mid":"TGBC2TKB","last":"G-415"},
      {"grp":"Resistant","first":"SNU-1196","mid":"HuCCT1","last":"TGBC18TKB"}
     ]},
     "layer":[
      {"mark":{"type":"rule","strokeWidth":1.5},"encoding":{"x":{"field":"first","type":"nominal","bandPosition":0},"x2":{"field":"last","bandPosition":1},"y":{"datum":8.25,"type":"quantitative"},"stroke":{"field":"grp","type":"nominal","scale":{"domain":["Sensitive","Resistant"],"range":["#6e6e6e","#000000"]},"legend":null}}},
      {"mark":{"type":"text","fontSize":13,"fontWeight":"bold","baseline":"middle","dx":6},"encoding":{"x":{"field":"mid","type":"nominal"},"y":{"datum":9.4,"type":"quantitative"},"text":{"field":"grp"},"color":{"field":"grp","type":"nominal","scale":{"domain":["Sensitive","Resistant"],"range":["#1f8a1f","#e8232a"]},"legend":null}}}
     ]}
   ]
  },
  {"width":313,"height":54,
   "data":{"values":[
    {"cell":"SK-ChA-1","trt":"−","prot":"Beclin","i":0.72},{"cell":"SK-ChA-1","trt":"+","prot":"Beclin","i":0.72},
    {"cell":"TGBC2TKB","trt":"−","prot":"Beclin","i":0.78},{"cell":"TGBC2TKB","trt":"+","prot":"Beclin","i":0.88},
    {"cell":"G-415","trt":"−","prot":"Beclin","i":0.88},{"cell":"G-415","trt":"+","prot":"Beclin","i":0.6},
    {"cell":"SNU-1196","trt":"−","prot":"Beclin","i":0.8},{"cell":"SNU-1196","trt":"+","prot":"Beclin","i":0.78},
    {"cell":"HuCCT1","trt":"−","prot":"Beclin","i":0.9},{"cell":"HuCCT1","trt":"+","prot":"Beclin","i":0.85},
    {"cell":"TGBC18TKB","trt":"−","prot":"Beclin","i":0.95},{"cell":"TGBC18TKB","trt":"+","prot":"Beclin","i":0.9},
    {"cell":"SK-ChA-1","trt":"−","prot":"Actin","i":1.0},{"cell":"SK-ChA-1","trt":"+","prot":"Actin","i":1.0},
    {"cell":"TGBC2TKB","trt":"−","prot":"Actin","i":0.95},{"cell":"TGBC2TKB","trt":"+","prot":"Actin","i":0.97},
    {"cell":"G-415","trt":"−","prot":"Actin","i":0.95},{"cell":"G-415","trt":"+","prot":"Actin","i":0.97},
    {"cell":"SNU-1196","trt":"−","prot":"Actin","i":0.95},{"cell":"SNU-1196","trt":"+","prot":"Actin","i":0.93},
    {"cell":"HuCCT1","trt":"−","prot":"Actin","i":0.97},{"cell":"HuCCT1","trt":"+","prot":"Actin","i":0.97},
    {"cell":"TGBC18TKB","trt":"−","prot":"Actin","i":0.95},{"cell":"TGBC18TKB","trt":"+","prot":"Actin","i":0.97}
   ]},
   "encoding":{"y":{"field":"prot","type":"nominal","sort":null,"scale":{"domain":["Beclin","Actin"],"paddingInner":0.06,"paddingOuter":0},"axis":{"title":null,"ticks":false,"domain":false,"labelFontSize":11,"labelPadding":4}}},
   "layer":[
    {"transform":[{"aggregate":[{"op":"count","as":"n"}],"groupby":["prot"]}],"mark":{"type":"rect","fill":"#e4e4e4","stroke":"#333333","strokeWidth":1.3}},
    {"mark":{"type":"tick","color":"#111111","thickness":7,"size":19,"orient":"horizontal","cornerRadius":3},"encoding":{"x":{"field":"cell","type":"nominal","sort":null,"scale":{"domain":["SK-ChA-1","TGBC2TKB","G-415","SNU-1196","HuCCT1","TGBC18TKB"],"paddingInner":0.2,"paddingOuter":0.24},"axis":null},"xOffset":{"field":"trt","type":"nominal","scale":{"domain":["−","+"]}},"opacity":{"field":"i","type":"quantitative","scale":{"domain":[0,1],"range":[0,1]},"legend":null}}}
   ]
  }
 ],"spacing":0}
],"spacing":96}
],
"spacing":48
}
